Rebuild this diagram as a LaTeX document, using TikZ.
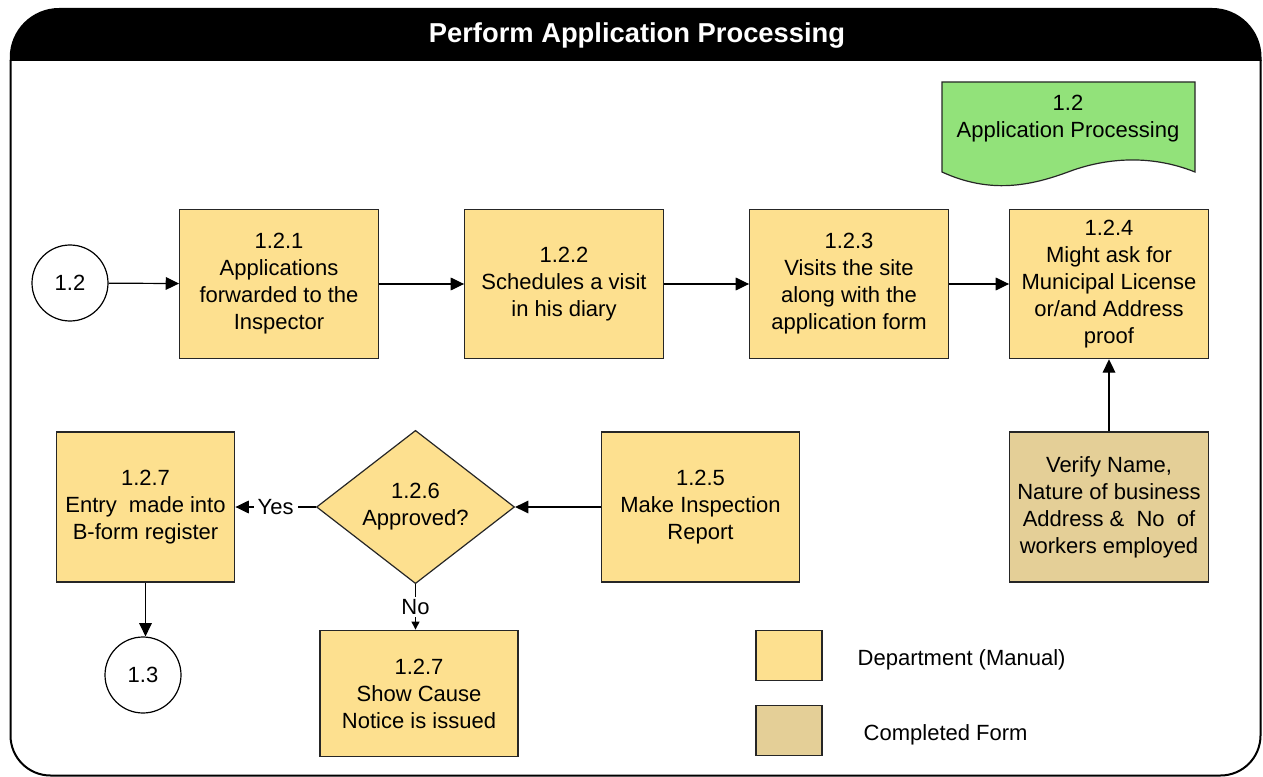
\documentclass[tikz,border=0pt]{standalone}
\usepackage{fontspec}
\setmainfont{Liberation Sans}
\usetikzlibrary{shapes.geometric,arrows.meta}
\definecolor{deptfill}{RGB}{253,224,143}
\definecolor{formfill}{RGB}{228,207,151}
\definecolor{docfill}{RGB}{146,226,122}
\tikzset{
  txt/.style={font=\fontsize{16.5}{20.2}\selectfont, align=center},
  procbox/.style={txt, draw=black!85, line width=0.9pt, fill=deptfill, inner sep=0pt,
                  minimum width=149pt, minimum height=112pt},
  formbox/.style={procbox, fill=formfill},
  decision/.style={txt, diamond, draw=black!85, line width=0.9pt, fill=deptfill, inner sep=0pt,
                   minimum width=148.5pt, minimum height=112.5pt},
  connector/.style={txt, circle, draw=black, line width=0.9pt, fill=white, inner sep=0pt,
                    minimum size=57pt},
  flow/.style={line width=0.9pt, -{Triangle[length=10pt,width=9.5pt]}},
  smallflow/.style={line width=0.9pt, -{Triangle[length=6pt,width=6pt]}},
  legendbox/.style={draw=black!85, line width=0.9pt, inner sep=0pt,
                    minimum width=49.5pt, minimum height=37.5pt}
}
\begin{document}
\begin{tikzpicture}[x=0.75pt, y=-0.75pt]
\useasboundingbox (0,0) rectangle (1263,777);

% outer frame with black title band (rounded only at the top)
\fill[black] (9.75,61) [rounded corners=37pt] -- (9.75,8) -- (1261.5,8) [sharp corners] -- (1261.5,61) -- cycle;
\draw[line width=1.5pt, rounded corners=30pt] (10.5,60) -- (10.5,775.5) -- (1260.5,775.5) -- (1260.5,60);
\node[font=\fontsize{20.5}{24}\selectfont\bfseries, text=white] (title) at (637,35) {Perform Application Processing};

% document shape for the sub-process
\draw[fill=docfill, draw=black!85, line width=0.9pt]
  (942,82) -- (1195,82) -- (1195,172)
  .. controls (1150,154) and (1105,158) .. (1068,172)
  .. controls (1030,186) and (990,194) .. (942,172) -- cycle;
\node[txt] (doc) at (1068,119) {1.2\\Application Processing};

% top row
\node[connector] (c12) at (70,283) {1.2};
\node[procbox] (p1) at (279,284) {1.2.1\\Applications\\forwarded to the\\Inspector};
\node[procbox] (p2) at (564,284) {1.2.2\\Schedules a visit\\in his diary};
\node[procbox] (p3) at (849,284) {1.2.3\\Visits the site\\along with the\\application form};
\node[procbox] (p4) at (1109,284) {1.2.4\\Might ask for\\Municipal License\\or/and Address\\proof};

% bottom row
\node[formbox, minimum height=112.5pt] (vf) at (1109,507) {Verify Name,\\Nature of business\\Address \&\ \ No\ \ of\\workers employed};
\node[procbox, minimum height=112.5pt] (p5) at (700.5,507) {1.2.5\\Make Inspection\\Report};
\node[decision] (d6) at (415.5,507) {1.2.6\\Approved?};
\node[procbox, minimum width=134pt, minimum height=112.5pt] (p7) at (145.5,507) {1.2.7\\Entry\ \ made into\\B-form\ register};
\node[procbox, minimum width=148.5pt, minimum height=95pt] (sc) at (419,693.5) {1.2.7\\Show Cause\\Notice is issued};
\node[connector] (c13) at (143,675) {1.3};

% connectors
\draw[flow] (c12) -- (p1);
\draw[flow] (p1) -- (p2);
\draw[flow] (p2) -- (p3);
\draw[flow] (p3) -- (p4);
\draw[flow] (vf) -- (p4);
\draw[flow] (p5) -- (d6);
\draw[flow] (d6.west) -- node[txt, fill=white, inner sep=3pt] {Yes} (p7.east);
\draw[smallflow] (d6.south) -- node[txt, fill=white, inner sep=2pt] {No} (d6.south |- sc.north);
\draw[flow] (p7.south) -- (p7.south |- c13.north);

% legend
\node[legendbox, fill=deptfill] (lg1) at (789,655.5) {};
\node[txt, anchor=west] (lt1) at (853,660) {Department (Manual)};
\node[legendbox, fill=formfill] (lg2) at (789,730.5) {};
\node[txt, anchor=west] (lt2) at (859,735) {Completed Form};
\end{tikzpicture}
\end{document}
